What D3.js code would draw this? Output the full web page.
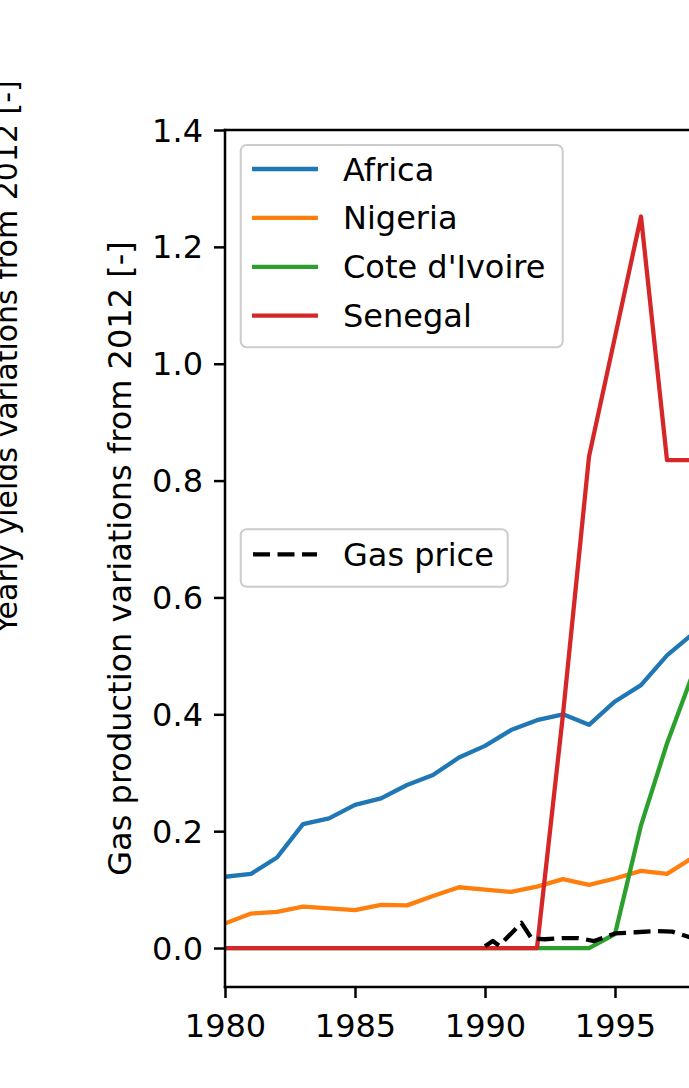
<!DOCTYPE html>
<html>
<head>
<meta charset="utf-8">
<script src="https://cdn.jsdelivr.net/npm/d3@7"></script>
<style>
  html, body { margin: 0; padding: 0; background: #fff; }
  svg { display: block; }
  text { font-family: "DejaVu Sans", sans-serif; fill: #000; }
</style>
</head>
<body>
<svg id="chart" width="689" height="1088"></svg>
<script>
// ---- data ----
const years = [1980,1981,1982,1983,1984,1985,1986,1987,1988,1989,1990,1991,1992,1993,1994,1995,1996,1997,1998];
const africa  = [0.122,0.127,0.155,0.212,0.222,0.245,0.256,0.279,0.296,0.326,0.346,0.373,0.390,0.400,0.382,0.422,0.450,0.501,0.538];
const nigeria = [0.042,0.059,0.062,0.071,0.068,0.065,0.074,0.073,0.089,0.104,0.100,0.096,0.105,0.118,0.108,0.119,0.132,0.127,0.155];
const coteDIvoire = [0,0,0,0,0,0,0,0,0,0,0,0,0,0,0,0.024,0.210,0.350,0.470];
const senegal = [0,0,0,0,0,0,0,0,0,0,0,0,0,0.400,0.841,1.046,1.252,0.835,0.835];
const gasYears  = [1990.0,1990.3,1990.55,1991.4,1991.8,1992.3,1993.0,1993.6,1994.2,1995.0,1995.8,1996.6,1997.2,1997.9,1998.5];
const gasValues = [0.003,0.012,0.004,0.043,0.016,0.015,0.017,0.017,0.012,0.025,0.027,0.029,0.028,0.018,0.015];
const seriesNames = ["Africa","Nigeria","Cote d'Ivoire","Senegal"];
const seriesColors = ["#1f77b4","#ff7f0e","#2ca02c","#d62728"];
const yTicks = [0.0,0.2,0.4,0.6,0.8,1.0,1.2,1.4];
const xTicks = [1980,1985,1990,1995];
const yLabel = "Gas production variations from 2012 [-]";
const otherYLabel = "Yearly yields variations from 2012 [-]";
const gasLabel = "Gas price";

// ---- layout ----
const svg = d3.select("#chart");
const L = 225, T = 130, B = 987, R = 745;
const FS = 32;
const x = d3.scaleLinear().domain([1980, 2000]).range([L, R]);
const y = d3.scaleLinear().domain([-0.0667, 1.4]).range([B, T]);

svg.append("defs").append("clipPath").attr("id","plotclip")
  .append("rect").attr("x", L).attr("y", T).attr("width", R - L).attr("height", B - T);

const plot = svg.append("g").attr("clip-path","url(#plotclip)");
const line = d3.line().x(d => x(d[0])).y(d => y(d[1]));
const allSeries = [africa, nigeria, coteDIvoire, senegal];
allSeries.forEach((vals, i) => {
  plot.append("path")
    .datum(years.map((yr, j) => [yr, vals[j]]))
    .attr("d", line)
    .attr("fill","none")
    .attr("stroke", seriesColors[i])
    .attr("stroke-width", 4.3)
    .attr("stroke-linejoin","round")
    .attr("stroke-linecap","square");
});
plot.append("path")
  .datum(gasYears.map((yr, j) => [yr, gasValues[j]]))
  .attr("d", line)
  .attr("fill","none")
  .attr("stroke","#000")
  .attr("stroke-width", 4.3)
  .attr("stroke-dasharray","17,7.5")
  .attr("stroke-linejoin","round");

// ---- axes ----
const yAxis = d3.axisLeft(y).tickValues(yTicks).tickFormat(d3.format(".1f")).tickSize(11).tickPadding(11);
const gy = svg.append("g").attr("transform", `translate(${L},0)`).call(yAxis);
const xAxis = d3.axisBottom(x).tickValues(xTicks).tickFormat(d3.format("d")).tickSize(11).tickPadding(11);
const gx = svg.append("g").attr("transform", `translate(0,${B})`).call(xAxis);
[gx, gy].forEach(g => {
  g.select(".domain").remove();
  g.selectAll(".tick line").attr("stroke","#000").attr("stroke-width", 2.5);
  g.selectAll(".tick text").attr("font-size", FS).attr("font-family","DejaVu Sans").attr("fill","#000");
});
gy.selectAll(".tick text").attr("dy", null).attr("dominant-baseline","central");
gx.selectAll(".tick text").attr("dy", null).attr("y", 50);

// spines
svg.append("line").attr("x1", L).attr("x2", L).attr("y1", T).attr("y2", B).attr("stroke","#000").attr("stroke-width",2.5).attr("stroke-linecap","square");
svg.append("line").attr("x1", L).attr("x2", R).attr("y1", B).attr("y2", B).attr("stroke","#000").attr("stroke-width",2.5).attr("stroke-linecap","square");
svg.append("line").attr("x1", L).attr("x2", R).attr("y1", T).attr("y2", T).attr("stroke","#000").attr("stroke-width",2.5).attr("stroke-linecap","square");

// axis labels
svg.append("text").attr("transform", `translate(131,${(T + B) / 2}) rotate(-90)`)
  .attr("text-anchor","middle").attr("font-size", FS).text(yLabel);
svg.append("text").attr("transform", `translate(17,357) rotate(-90)`)
  .attr("text-anchor","middle").attr("font-size", 30).text(otherYLabel);

// ---- legends ----
const leg1 = svg.append("g");
leg1.append("rect").attr("x",240.7).attr("y",145).attr("width",322).attr("height",202.3)
  .attr("rx",6).attr("fill","#fff").attr("fill-opacity",0.8).attr("stroke","#cccccc").attr("stroke-width",2);
seriesNames.forEach((name, i) => {
  const ly = 169 + i * 48.9;
  leg1.append("line").attr("x1",252).attr("x2",318).attr("y1",ly).attr("y2",ly)
    .attr("stroke", seriesColors[i]).attr("stroke-width",4.3);
  leg1.append("text").attr("x",343).attr("y",ly + 11.5).attr("font-size",FS).text(name);
});
const leg2 = svg.append("g");
leg2.append("rect").attr("x",240.7).attr("y",529.3).attr("width",267).attr("height",57.4)
  .attr("rx",6).attr("fill","#fff").attr("fill-opacity",0.8).attr("stroke","#cccccc").attr("stroke-width",2);
leg2.append("line").attr("x1",253).attr("x2",317).attr("y1",554.3).attr("y2",554.3)
  .attr("stroke","#000").attr("stroke-width",4.3).attr("stroke-dasharray","17,7.5");
leg2.append("text").attr("x",343).attr("y",554.3 + 11.5).attr("font-size",FS).text(gasLabel);
</script>
</body>
</html>
